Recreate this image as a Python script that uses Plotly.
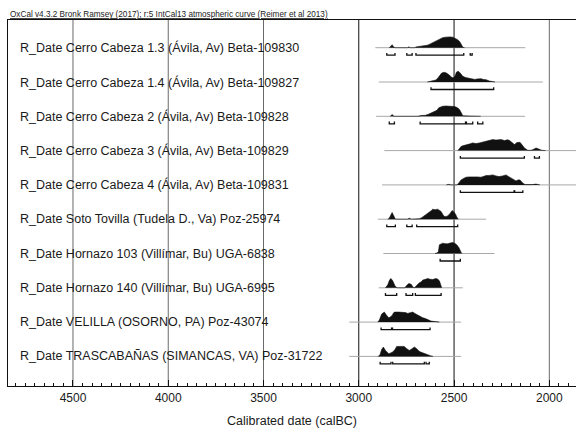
import plotly.graph_objects as go

labels = [
    "R_Date Cerro Cabeza 1.3 (Ávila, Av) Beta-109830",
    "R_Date Cerro Cabeza 1.4 (Ávila, Av) Beta-109827",
    "R_Date Cerro Cabeza 2 (Ávila, Av) Beta-109828",
    "R_Date Cerro Cabeza 3 (Ávila, Av) Beta-109829",
    "R_Date Cerro Cabeza 4 (Ávila, Av) Beta-109831",
    "R_Date Soto Tovilla (Tudela D., Va) Poz-25974",
    "R_Date Hornazo 103 (Villímar, Bu) UGA-6838",
    "R_Date Hornazo 140 (Villímar, Bu) UGA-6995",
    "R_Date VELILLA (OSORNO, PA) Poz-43074",
    "R_Date TRASCABAÑAS (SIMANCAS, VA) Poz-31722",
]

# calibration span shown by the thin baseline (calBC)
span_start = [2913, 2895, 2909, 2866, 2878, 2900, 2871, 2895, 3050, 3050]
span_end = [2126, 2034, 2127, 1850, 1850, 2332, 2288, 2454, 2463, 2463]

# probability distributions: years (calBC) and relative probability
dist_years = [
    [2840, 2830, 2825, 2818, 2810, 2745, 2738, 2730, 2705, 2700, 2690, 2660, 2640, 2630, 2612, 2600, 2590, 2577, 2568, 2560, 2545, 2533, 2520, 2507, 2495, 2481, 2470, 2463, 2454, 2445],
    [2640, 2625, 2610, 2595, 2585, 2577, 2565, 2551, 2540, 2525, 2515, 2504, 2495, 2487, 2477, 2468, 2460, 2454, 2440, 2428, 2415, 2402, 2390, 2380, 2358, 2345, 2332, 2315, 2297, 2285],
    [2835, 2825, 2815, 2690, 2673, 2650, 2635, 2621, 2603, 2590, 2580, 2573, 2560, 2542, 2520, 2500, 2490, 2478, 2469, 2460, 2454, 2420, 2380, 2360],
    [2480, 2470, 2462, 2450, 2437, 2420, 2402, 2385, 2367, 2350, 2332, 2315, 2297, 2280, 2265, 2253, 2235, 2220, 2210, 2195, 2183, 2170, 2154, 2140, 2131, 2113, 2095, 2080, 2070, 2055, 2040, 2020],
    [2540, 2530, 2515, 2485, 2475, 2463, 2450, 2437, 2420, 2402, 2380, 2358, 2345, 2332, 2315, 2297, 2280, 2264, 2245, 2227, 2215, 2201, 2185, 2175, 2164, 2154, 2140, 2128, 2090, 2070, 2050],
    [2848, 2840, 2830, 2825, 2818, 2808, 2745, 2735, 2725, 2690, 2682, 2670, 2656, 2643, 2630, 2620, 2612, 2600, 2586, 2575, 2568, 2560, 2551, 2540, 2533, 2520, 2510, 2500, 2493, 2485, 2478],
    [2600, 2590, 2582, 2577, 2568, 2560, 2545, 2533, 2520, 2507, 2495, 2486, 2475, 2467, 2460],
    [2860, 2848, 2838, 2831, 2822, 2810, 2800, 2758, 2750, 2738, 2725, 2715, 2708, 2700, 2690, 2682, 2672, 2664, 2650, 2638, 2625, 2612, 2600, 2594, 2585, 2577, 2570, 2565],
    [2900, 2892, 2880, 2866, 2855, 2843, 2835, 2825, 2818, 2813, 2790, 2769, 2755, 2743, 2730, 2717, 2705, 2690, 2678, 2664, 2650, 2638, 2621, 2600, 2577],
    [2898, 2888, 2880, 2871, 2860, 2850, 2843, 2832, 2822, 2810, 2801, 2785, 2762, 2750, 2735, 2722, 2708, 2695, 2685, 2675, 2664, 2650, 2638, 2621, 2610],
]
dist_prob = [
    [0, 2.5, 3, 1, 0, 0, 0.8, 0, 0, 0.8, 1, 1.5, 2.5, 3.3, 5, 6, 6.5, 8, 9, 10, 10.5, 11, 10.8, 10.5, 9.5, 8, 6, 3, 0.5, 0],
    [0, 0.5, 1, 2, 4, 6, 9, 9.7, 9, 7, 5, 4, 6, 10, 10.7, 9, 6.5, 5.7, 4.5, 4, 3.5, 3.3, 2.5, 3, 3.3, 2.5, 2.3, 1, 0.3, 0],
    [0, 1.7, 0, 0, 0.8, 1, 2, 3.3, 4.3, 6, 8.5, 9.3, 10, 10.3, 10.2, 9.8, 9.3, 8, 6, 2, 0.5, 0.3, 0.3, 0],
    [0, 2, 4.3, 5, 6, 6.5, 7.7, 7, 7.7, 8.5, 9.3, 10, 11, 10.5, 11.2, 11, 10, 10.8, 10.3, 8, 6, 8, 8.3, 5, 2.7, 0.3, 0.3, 1.5, 2.7, 1.5, 0.3, 0],
    [0, 0.5, 0, 0, 2, 5, 6.5, 7.7, 8, 8.3, 8, 7.7, 8.5, 9.3, 9.5, 10, 9, 8.3, 9, 10, 8.5, 6.7, 4.5, 4, 5, 5, 2, 0.3, 0.3, 0.8, 0],
    [0, 1, 5, 6.7, 4, 0, 0, 1, 0, 0, 0.5, 1.5, 3.3, 5, 6.7, 8.5, 10, 9.5, 10, 9, 7.7, 5, 2.7, 2.8, 3.3, 6, 8.7, 7, 5.3, 2, 0],
    [0, 0.5, 2, 8.7, 9.5, 10.3, 9.8, 9.7, 10.5, 11, 10, 8.7, 6, 2, 0],
    [0, 3, 8, 9.3, 7, 2, 0, 0, 2, 4.3, 3.5, 0.5, 0, 1.5, 4, 5, 6, 7.7, 8.5, 9.3, 8.5, 8.3, 9, 9.3, 8.5, 7, 3, 0],
    [0, 2, 8, 10, 7, 4.3, 5, 6.7, 9, 10, 10, 10, 9.5, 8.7, 9.3, 10, 8.5, 6.7, 5.5, 4.3, 3.5, 2.7, 1, 0.5, 0],
    [0, 2, 7, 9.3, 6, 3.5, 2.7, 3.5, 4.3, 7, 10, 10, 10, 8, 6, 7.5, 9.3, 7.5, 5.3, 4.3, 3.3, 2.3, 1.7, 0.5, 0],
]

# 95.4% probability ranges (calBC)
ranges = [
    [(2853, 2810), (2748, 2720), (2700, 2449), (2415, 2405)],
    [(2621, 2292)],
    [(2840, 2813), (2678, 2440), (2435, 2402), (2376, 2349)],
    [(2467, 2131), (2078, 2052)],
    [(2467, 2185), (2182, 2139)],
    [(2853, 2808), (2748, 2720), (2696, 2481)],
    [(2573, 2467)],
    [(2860, 2801), (2752, 2717), (2703, 2568)],
    [(2883, 2828), (2823, 2626)],
    [(2888, 2831), (2822, 2656), (2647, 2630)],
]

major_ticks = [4500, 4000, 3500, 3000, 2500, 2000]
grid_light = [4500, 4000, 3500, 2000]
grid_dark = [3000, 2500]

header = "OxCal v4.3.2 Bronk Ramsey (2017); r:5 IntCal13 atmospheric curve (Reimer et al 2013)"

ROW = 34.3      # vertical spacing between rows
BR_OFF = 7.5    # bracket offset below baseline
CAP = 2.2       # bracket cap height
FONT = "Liberation Sans, Arial, sans-serif"

fig = go.Figure()

for i in range(len(labels)):
    base = -ROW * i
    fig.add_trace(go.Scatter(x=[span_start[i], span_end[i]], y=[base, base], mode="lines",
                             line=dict(color="#a8a8a8", width=1), hoverinfo="skip", showlegend=False))
    xs = list(dist_years[i])
    ys = [base + p for p in dist_prob[i]]
    xs = [xs[0]] + xs + [xs[-1]]
    ys = [base] + ys + [base]
    fig.add_trace(go.Scatter(x=xs, y=ys, mode="lines", fill="toself", fillcolor="#111111",
                             line=dict(color="#111111", width=0.6), hoverinfo="skip", showlegend=False))
    bx, by = [], []
    yb = base - BR_OFF
    for s, e in ranges[i]:
        bx += [s, s, e, e, None]
        by += [yb + CAP, yb, yb, yb + CAP, None]
    fig.add_trace(go.Scatter(x=bx, y=by, mode="lines", line=dict(color="#111111", width=1.3),
                             hoverinfo="skip", showlegend=False))
    fig.add_annotation(x=0.0176, xref="paper", y=base, yref="y", text=labels[i],
                       showarrow=False, xanchor="left", yanchor="middle",
                       font=dict(family=FONT, size=12.5, color="#1a1a1a"))

shapes = []
for g in grid_light:
    shapes.append(dict(type="line", xref="x", yref="paper", x0=g, x1=g, y0=0, y1=1,
                       line=dict(color="#6a6a6a", width=1), layer="below"))
for g in grid_dark:
    shapes.append(dict(type="line", xref="x", yref="paper", x0=g, x1=g, y0=0, y1=1,
                       line=dict(color="#111111", width=1), layer="below"))

fig.add_annotation(x=0, xref="paper", y=1.0137, yref="paper", text="<u>" + header + "</u>",
                   showarrow=False, xanchor="left", yanchor="middle",
                   font=dict(family=FONT, size=8.2, color="#222"))

fig.update_layout(
    width=576, height=428,
    margin=dict(l=8, r=0, t=20, b=42, autoexpand=False),
    paper_bgcolor="white", plot_bgcolor="white",
    shapes=shapes,
    font=dict(family=FONT, color="#1a1a1a"),
    xaxis=dict(range=[4841, 1860], tickvals=major_ticks, ticktext=[str(t) for t in major_ticks],
               ticks="inside", ticklen=6, tickcolor="#111", showgrid=False, zeroline=False,
               showline=True, linecolor="#111", linewidth=1.2, mirror=True,
               tickfont=dict(size=12, color="#1a1a1a"),
               minor=dict(dtick=50, tick0=0, ticks="inside", ticklen=3, tickcolor="#111", showgrid=False),
               title=dict(text="Calibrated date (calBC)", font=dict(size=12.5, color="#1a1a1a"))),
    yaxis=dict(range=[-338.3, 27.7], showticklabels=False, ticks="", showgrid=False, zeroline=False,
               showline=True, linecolor="#111", linewidth=1.2),
)

fig.write_html("out.html", config={"displayModeBar": False},
               post_script="document.body.style.margin='0';document.body.style.overflow='hidden';")
